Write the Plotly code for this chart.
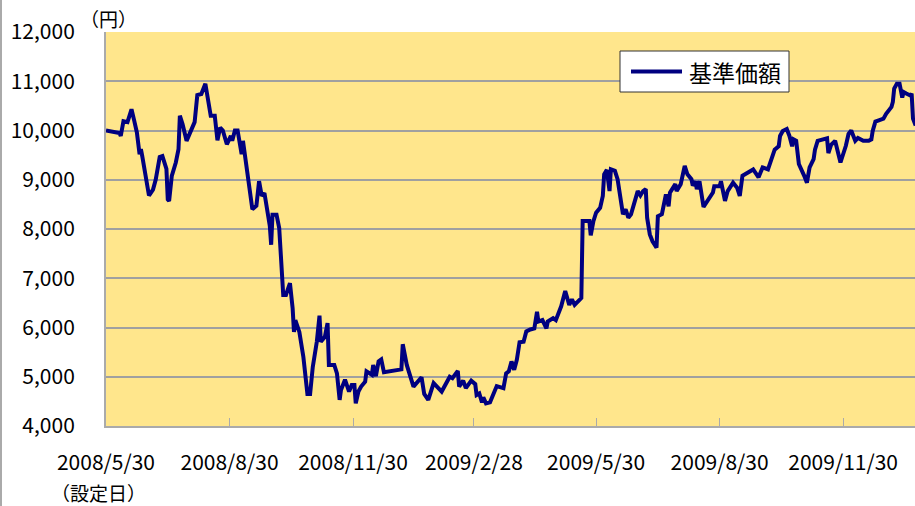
import pandas as pd
import plotly.graph_objects as go

# Days since fund launch (2008/5/30) and NAV (基準価額, yen)
days = [0,4,10,11,13,16,19,21,23,25,26,27,30,32,35,37,40,42,45,46,47,49,52,54,55,57,60,63,66,68,71,74,76,78,81,82,83,85,87,90,93,94,96,98,99,101,102,103,105,109,112,114,116,118,122,123,124,127,129,131,132,134,137,139,140,141,144,147,150,152,154,157,159,160,163,165,166,170,172,174,175,178,181,183,185,186,188,190,193,194,198,199,201,203,205,207,211,220,221,224,229,231,235,237,240,244,247,250,256,258,262,263,266,268,272,275,276,278,280,281,283,286,291,296,298,300,302,304,306,308,311,313,316,319,321,322,325,328,329,333,335,339,342,345,347,349,353,354,355,360,361,363,365,368,370,371,373,375,376,379,381,385,387,389,391,394,396,398,400,402,403,405,407,410,411,414,417,419,420,424,425,428,431,433,436,437,439,440,442,445,447,450,452,453,457,458,461,463,467,470,472,474,478,482,486,489,493,496,498,501,502,504,507,509,511,512,514,516,518,520,522,524,527,528,530,533,537,538,540,543,544,547,551,553,555,558,560,564,568,570,571,573,576,579,581,585,586,587,589,591,593,594,596,599,600,601,603]
nav = [10000,9985,9950,9890,10190,10170,10430,10200,9960,9520,9620,9480,9050,8680,8800,9000,9460,9480,9220,8600,8570,9080,9350,9620,10300,10130,9790,9960,10170,10720,10740,10950,10600,10300,10300,10000,9800,10060,10000,9720,9890,9790,10000,10000,9800,9520,9790,9580,9210,8400,8470,8970,8670,8730,8060,7680,8290,8290,8020,6970,6660,6660,6900,6390,5910,6150,5910,5400,4650,4650,5200,5710,6240,5710,5810,6090,5240,5240,5070,4530,4730,4940,4700,4830,4830,4460,4700,4800,4900,5110,5040,5240,5010,5310,5350,5090,5110,5150,5660,5240,4800,4870,4990,4650,4530,4870,4770,4700,5000,4970,5120,4800,4920,4770,4920,4850,4630,4660,4480,4580,4460,4480,4810,4770,5070,5110,5310,5140,5350,5700,5710,5920,5960,5980,6320,6120,6150,5980,6120,6190,6150,6430,6740,6460,6570,6460,6570,6600,8160,8160,7870,8160,8330,8430,8670,9110,9200,8770,9210,9180,9010,8300,8400,8230,8300,8600,8770,8680,8770,8810,8230,7890,7750,7620,8260,8300,8700,8460,8740,8910,8770,8910,9280,9110,9010,8880,8970,8810,8970,8450,8530,8670,8740,8870,8870,8970,8570,8770,8940,8840,8670,9080,9150,9210,9050,9250,9210,9420,9610,9680,9890,9990,10030,9890,9680,9820,9790,9320,9210,9080,8940,9250,9420,9610,9790,9820,9840,9540,9710,9790,9690,9350,9690,9930,10000,9790,9850,9790,9790,9820,9990,10180,10210,10240,10340,10480,10580,10850,10950,10950,10670,10780,10750,10710,10750,10240,10100]

launch_date = "2008-05-30"
tick_dates = ["2008-05-30", "2008-08-30", "2008-11-30", "2009-02-28",
              "2009-05-30", "2009-08-30", "2009-11-30"]
tick_labels = ["2008/5/30", "2008/8/30", "2008/11/30", "2009/2/28",
               "2009/5/30", "2009/8/30", "2009/11/30"]
series_name = "基準価額"

base = pd.Timestamp(launch_date)
dates = base + pd.to_timedelta(days, unit="D")

FONT = "Noto Sans CJK JP, Noto Sans, sans-serif"
W, H = 915, 506
L, R, T, B = 106, 0, 32, 80
PW, PH = W - L - R, H - T - B


def px(x):
    return (x - L) / PW


def py(y):
    return (H - B - y) / PH


fig = go.Figure()
fig.add_trace(go.Scatter(
    x=dates, y=nav, mode="lines", name=series_name,
    line=dict(color="#000080", width=4),
    showlegend=False,
))

x_end = base + pd.Timedelta(days=602.5)

fig.update_layout(
    width=W, height=H,
    margin=dict(l=L, r=R, t=T, b=B),
    paper_bgcolor="white",
    plot_bgcolor="#FFE68C",
    font=dict(family=FONT, size=21, color="#000"),
    showlegend=False,
    xaxis=dict(
        type="date",
        range=[base, x_end],
        tickmode="array", tickvals=tick_dates, ticktext=tick_labels,
        ticks="inside", ticklen=8, tickcolor="#aaaaaa", tickwidth=1,
        showgrid=False, zeroline=False,
        showline=True, linecolor="#aaaaaa", linewidth=2,
        ticklabelstandoff=17,
        tickfont=dict(family=FONT, size=21, color="#000"),
    ),
    yaxis=dict(
        range=[4000, 12000], dtick=1000, tick0=4000,
        tickformat=",d",
        showgrid=True, gridcolor="#a0a0a0", gridwidth=1.5,
        zeroline=False,
        showline=True, linecolor="#aaaaaa", linewidth=2,
        ticks="", ticklabelstandoff=25,
        tickfont=dict(family=FONT, size=21, color="#000"),
    ),
    annotations=[
        dict(text="（円）", xref="paper", yref="paper",
             x=px(108), y=py(18),
             xanchor="center", yanchor="middle", showarrow=False,
             font=dict(family=FONT, size=19, color="#000")),
        dict(text="（設定日）", xref="paper", yref="paper",
             x=px(98), y=py(492),
             xanchor="center", yanchor="middle", showarrow=False,
             font=dict(family=FONT, size=19, color="#000")),
        # legend text
        dict(text=series_name, xref="paper", yref="paper",
             x=px(687), y=py(71.5),
             xanchor="left", yanchor="middle", showarrow=False,
             font=dict(family=FONT, size=23, color="#000")),
    ],
    shapes=[
        # outer chart border (left)
        dict(type="line", xref="paper", yref="paper",
             x0=px(1), x1=px(1), y0=py(H), y1=py(0),
             line=dict(color="#aaaaaa", width=2)),
        # legend box
        dict(type="rect", xref="paper", yref="paper",
             x0=px(620), x1=px(789), y0=py(92), y1=py(51),
             fillcolor="white", line=dict(color="#333333", width=1)),
        # legend line sample
        dict(type="line", xref="paper", yref="paper",
             x0=px(631), x1=px(682), y0=py(71.5), y1=py(71.5),
             line=dict(color="#000080", width=4)),
    ],
)

fig.write_html(
    "out.html",
    config={"displayModeBar": False},
    post_script="document.body.style.margin='0px';document.body.style.overflow='hidden';",
)
